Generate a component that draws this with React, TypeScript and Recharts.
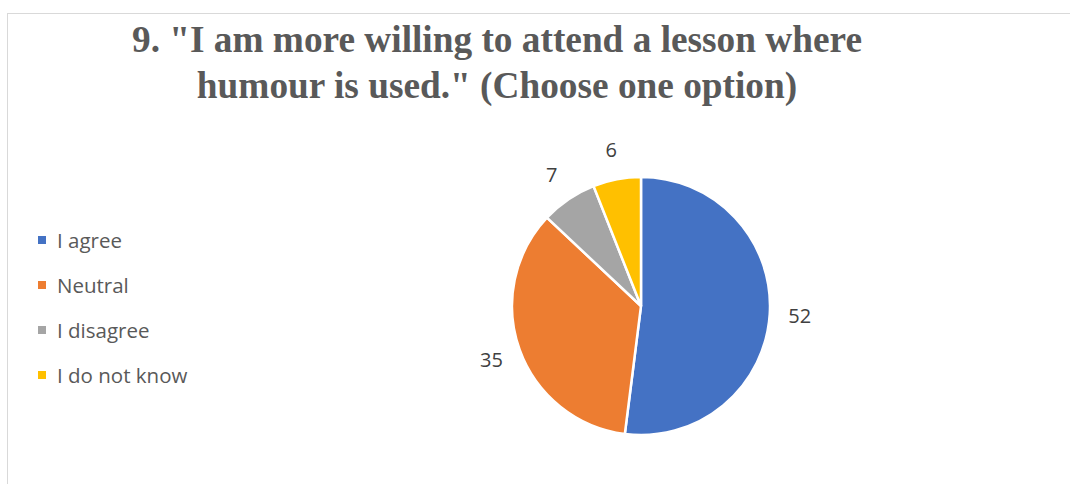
import { PieChart, Pie, Cell } from "recharts";

const categories = ["I agree", "Neutral", "I disagree", "I do not know"];
const counts = [52, 35, 7, 6];
const colors = ["#4472C4", "#ED7D31", "#A5A5A5", "#FFC000"];

const titleLines = [
  '9. "I am more willing to attend a lesson where',
  'humour is used." (Choose one option)',
];

const data = categories.map((name, i) => ({ name, value: counts[i] }));

const RAD = Math.PI / 180;

const renderLabel = ({ cx, cy, midAngle, outerRadius, value }: any) => {
  const r = outerRadius + 30;
  const x = cx + r * Math.cos(-midAngle * RAD);
  const y = cy + r * Math.sin(-midAngle * RAD);
  return (
    <text
      x={x}
      y={y}
      fill="#404040"
      fontSize={20}
      fontFamily="'Open Sans', sans-serif"
      textAnchor="middle"
      dominantBaseline="central"
    >
      {value}
    </text>
  );
};

export default function App() {
  return (
    <div style={{ position: "absolute", left: 0, top: 0, width: 1070, height: 484, background: "#fff", overflow: "hidden" }}>
      {/* chart frame, only top and left edges visible */}
      <div
        style={{
          position: "absolute", left: 7, top: 13, width: 1080, height: 500,
          border: "1px solid #d9d9d9", boxSizing: "border-box",
        }}
      />

      {/* title */}
      <div
        style={{
          position: "absolute", left: 0, top: 17, width: 994, textAlign: "center",
          fontFamily: "'Liberation Serif', 'Times New Roman', serif", fontWeight: 700,
          fontSize: 37.3, lineHeight: "46px", color: "#595959",
        }}
      >
        {titleLines.map((t) => <div key={t}>{t}</div>)}
      </div>

      {/* legend */}
      <div style={{ position: "absolute", left: 38, top: 217, fontFamily: "'Open Sans', sans-serif", fontSize: 20.5, color: "#595959" }}>
        {categories.map((c, i) => (
          <div key={c} style={{ display: "flex", alignItems: "center", height: 45 }}>
            <span style={{ width: 8, height: 8, background: colors[i], marginRight: 11, display: "inline-block" }} />
            <span>{c}</span>
          </div>
        ))}
      </div>

      <div style={{ position: "absolute", left: 0, top: 0 }}>
        <PieChart width={1070} height={484} margin={{ top: 0, right: 0, bottom: 0, left: 0 }}>
          <Pie
            data={data}
            dataKey="value"
            nameKey="name"
            cx={641}
            cy={306}
            outerRadius={129}
            startAngle={90}
            endAngle={-270}
            stroke="#ffffff"
            strokeWidth={2.5}
            label={renderLabel}
            labelLine={false}
            isAnimationActive={false}
          >
            {data.map((d, i) => (
              <Cell key={d.name} fill={colors[i]} />
            ))}
          </Pie>
        </PieChart>
      </div>
    </div>
  );
}
